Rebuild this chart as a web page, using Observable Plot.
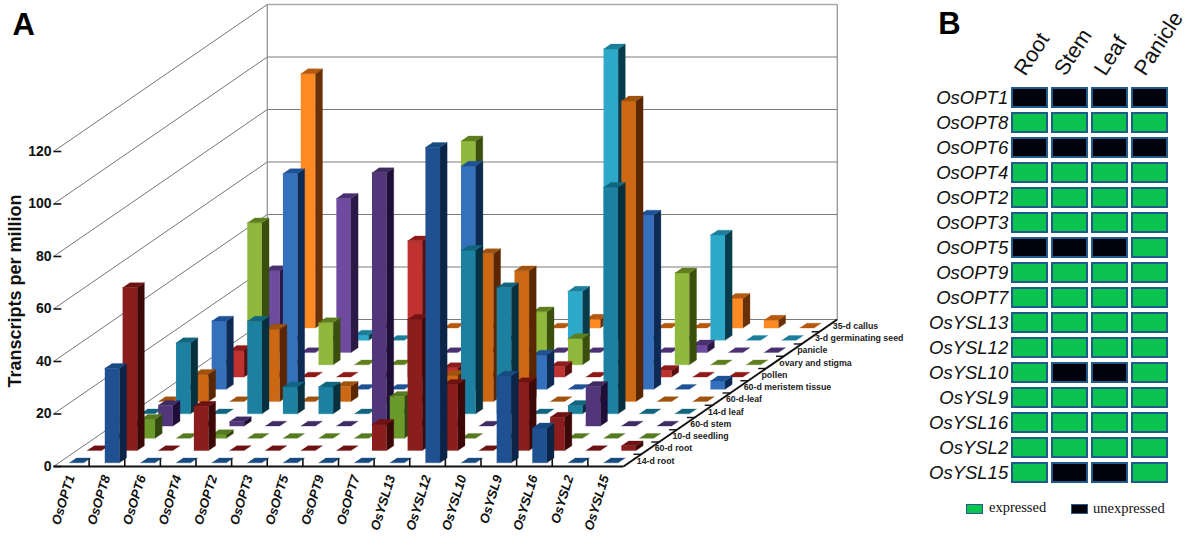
<!DOCTYPE html>
<html><head><meta charset="utf-8">
<script src="https://cdn.jsdelivr.net/npm/d3@7"></script>
<script src="https://cdn.jsdelivr.net/npm/@observablehq/plot@0.6"></script>
<style>
html,body{margin:0;padding:0;background:#fff;overflow:hidden;width:1200px;height:548px}
#wrap{position:relative;width:1200px;height:548px}
#a{position:absolute;left:0;top:0}#b{position:absolute;left:930px;top:0}
svg{display:block;background:transparent}
.lg{position:absolute;font-family:"Liberation Serif",serif;font-size:14.5px;color:#111;line-height:16px}
.sw{position:absolute;width:17px;height:10px;box-sizing:border-box;border:1px solid #2a5a8a}
</style></head><body><div id="wrap"><div id="a"></div><div id="b"></div>
<div class="sw" style="left:966px;top:504px;background:#0bc44f"></div><div class="lg" style="left:989px;top:499px">expressed</div>
<div class="sw" style="left:1071px;top:504px;background:#02020c"></div><div class="lg" style="left:1093px;top:500px">unexpressed</div>
</div>
<script>
const genes=["OsOPT1","OsOPT8","OsOPT6","OsOPT4","OsOPT2","OsOPT3","OsOPT5","OsOPT9","OsOPT7","OsYSL13","OsYSL12","OsYSL10","OsYSL9","OsYSL16","OsYSL2","OsYSL15"];
const tissues=["14-d root","60-d root","10-d seedling","60-d stem","14-d leaf","60-d-leaf","60-d meristem tissue","pollen","ovary and stigma","panicle","3-d germinating seed","35-d callus"];
const root14=[0,36,0,0,0,0,0,0,0,0,120.2,0,33,13.3,0,0];
const root60=[0,62.1,0,16.9,0,0,0,0,10,50,25.2,0,25.9,12.7,0,1.8];
const seedling10=[0,7.2,0,1.4,0,0,0,0,16,0,0,0,0,0,0,0];
const stem60=[0,7.9,0,1.7,0,0,0,96.5,0,0,0,0,0,15.1,0,0];
const leaf14=[0,27.1,0,35.3,10.3,10.3,0,0,0,62.3,48.1,0,3.2,86.3,0,0];
const leaf60=[0,10.4,0,27.6,0,5.8,0,0,10,56.4,49.8,0,0,114.5,0,0];
const meristem60=[0,26,0,82.2,0,0,0,0,85,0,13,0,0,66.4,0,3.2];
const pollen=[0,10.2,0,0,0,0,51.9,3.6,0,0,4.1,0,0,2.5,0,0];
const ovary=[0,54.1,0,16.1,0,0,0,85.3,0,20.2,10,0,0,35,0,0];
const panicle=[0,31.2,0,58.7,0,0,0,0,0,0,0,0,0,2.9,0,0];
const seed3=[0,0,0,2,0,0,0,0,0,18.7,111,0,0,40.1,0,0];
const callus35=[0,96.9,0,0,0,0,0,0,0,3.4,0,0,0,11.3,3,0];
const series=[root14,root60,seedling10,stem60,leaf14,leaf60,meristem60,pollen,ovary,panicle,seed3,callus35];
const frontColors=["#1f5091","#8c1d1d","#6a9a2a","#52367a","#1c81a0","#cc6814","#3570bc","#bf3230","#8fb83c","#6f4ba0","#2ea8c8","#ff8a24"];
const sideColors=["#0b2447","#3d0808","#33480f","#1f0f38","#07303f","#5a2700","#0d2a55","#5a0e0e","#3b4f0c","#2a1845","#063c4c","#6a3008"];
const topColors=["#174a80","#6e1212","#557a1f","#3f2a62","#12657f","#a0520f","#1e5196","#8f1a1a","#5f7f1f","#4a3070","#1b7f9c","#b5590f"];
const yTicks=[0,20,40,60,80,100,120];
const conditions=["Root","Stem","Leaf","Panicle"];
const expression=[[0,0,0,0],[1,1,1,1],[0,0,0,0],[1,1,1,1],[1,1,1,1],[1,1,1,1],[0,0,0,1],[1,1,1,1],[1,1,1,1],[1,1,1,1],[1,1,1,1],[1,0,0,1],[1,1,1,1],[1,1,1,1],[1,1,1,1],[1,0,0,1]];

// oblique projection of (gene, depth, value) on the plot's x and y scales
const DX=0.5, DY=56/12, G0=0.29, G1=0.70, D0=0.3, D1=0.7, ROWS=12, GN=16;
const P=(g,d,v)=>({x:g+DX*d,y:v+DY*d});
const faces=[];
for(let r=ROWS-1;r>=0;r--){
  series[r].forEach((v,k)=>{
    const g0=k+G0,g1=k+G1,d0=r+D0,d1=r+D1;
    const add=(name,color,pts)=>pts.forEach(p=>faces.push({id:`${r}-${k}-${name}`,color,...p}));
    if(v>0){
      add("front",frontColors[r],[P(g0,d0,0),P(g1,d0,0),P(g1,d0,v),P(g0,d0,v)]);
      add("side",sideColors[r],[P(g1,d0,0),P(g1,d1,0),P(g1,d1,v),P(g1,d0,v)]);
    }
    add("top",topColors[r],[P(g0,d0,v),P(g1,d0,v),P(g1,d1,v),P(g0,d1,v)]);
  });
}
const depthEnd=d3.range(1,ROWS);
const font='"Liberation Sans",Arial,sans-serif';
const A=Plot.plot({
  width:930,height:548,marginLeft:53,marginRight:307,marginTop:151,marginBottom:82,
  style:{fontFamily:font,background:"transparent",overflow:"visible"},
  x:{domain:[0,GN],axis:null},
  y:{domain:[0,120],axis:null},
  color:{type:"identity"},
  marks:[
    Plot.link(yTicks,{x1:0,y1:d=>d,x2:DX*ROWS,y2:d=>d+DY*ROWS,stroke:"#666",strokeWidth:0.9}),
    Plot.link(yTicks,{x1:DX*ROWS,y1:d=>d+DY*ROWS,x2:GN+DX*ROWS,y2:d=>d+DY*ROWS,stroke:d=>d==120?"#aaa":"#7c7c7c",strokeWidth:d=>d==120?1.6:1.2}),
    Plot.link([0,GN],{x1:d=>d+DX*ROWS,y1:DY*ROWS,x2:d=>d+DX*ROWS,y2:120+DY*ROWS,stroke:"#808080",strokeWidth:1.1}),
    Plot.line(faces,{x:"x",y:"y",z:"id",fill:"color",stroke:"color",strokeWidth:0.3}),
    Plot.link([0],{x1:0,x2:GN,y1:0,y2:0,stroke:"#111",strokeWidth:2}),
    Plot.link([0],{x1:GN,y1:0,x2:GN+DX*ROWS,y2:DY*ROWS,stroke:"#111",strokeWidth:2}),
    Plot.link(yTicks,{x1:0,x2:0.22,y1:d=>d,y2:d=>d,stroke:"#111",strokeWidth:1.6}),
    Plot.link(d3.range(1,GN),{x1:d=>d,x2:d=>d,y1:0,y2:3,stroke:"#111",strokeWidth:1.6}),
    Plot.link(depthEnd,{x1:d=>GN+DX*d-0.22,x2:d=>GN+DX*d,y1:d=>DY*d,y2:d=>DY*d,stroke:"#111",strokeWidth:1.4}),
    Plot.axisY(yTicks,{anchor:"left",tickSize:0,tickPadding:2,fontSize:14,fontWeight:"bold",fill:"#111",label:null,tickFormat:d=>d}),
    Plot.text(genes,{x:(d,i)=>i+0.5,y:0,text:d=>d,dy:9,dx:-0.5,rotate:-73,textAnchor:"end",lineAnchor:"middle",fontSize:13,fontWeight:"bold",fontStyle:"italic",fill:"#111"}),
    Plot.text(tissues,{x:(d,i)=>GN+DX*(i+1),y:(d,i)=>DY*(i+1),text:d=>d,dx:-4.5,dy:6.5,textAnchor:"start",lineAnchor:"middle",fontSize:8.8,fontWeight:"bold",fill:"#222"}),
    Plot.text(["Transcripts per million"],{frameAnchor:"left",dx:-38,dy:-18,rotate:-90,textAnchor:"middle",fontSize:18,fontWeight:"bold",fill:"#111"}),
    Plot.text(["A"],{frameAnchor:"top-left",dx:-41,dy:-126,textAnchor:"start",lineAnchor:"middle",fontSize:31,fontWeight:"bold",fill:"#000"})
  ]
});
document.getElementById("a").append(A);

const cells=[];
genes.forEach((g,i)=>conditions.forEach((c,j)=>cells.push({gene:g,condition:c,expressed:expression[i][j]})));
const B=Plot.plot({
  width:270,height:548,marginLeft:80.7,marginRight:31.6,marginTop:82.7,marginBottom:60.7,
  style:{fontFamily:font,background:"transparent",overflow:"visible"},
  x:{domain:conditions,axis:null,paddingInner:0.08,paddingOuter:0},
  y:{domain:genes,axis:null,paddingInner:0.15,paddingOuter:0},
  color:{type:"identity"},
  marks:[
    Plot.cell(cells,{x:"condition",y:"gene",fill:d=>d.expressed?"#0bc44f":"#02020c",stroke:"#1f5a8a",strokeWidth:2,inset:1}),
    Plot.axisY(genes,{anchor:"left",tickSize:0,tickPadding:3,fontSize:18.5,fontStyle:"italic",fill:"#111",label:null}),
    Plot.text(conditions,{x:d=>d,frameAnchor:"top",dx:-10.5,dy:-10,rotate:-57,textAnchor:"start",lineAnchor:"middle",fontSize:21.5,fill:"#111"}),
    Plot.text(["B"],{frameAnchor:"top-left",dx:-73,dy:-59,textAnchor:"start",lineAnchor:"middle",fontSize:31,fontWeight:"bold",fill:"#000"})
  ]
});
document.getElementById("b").append(B);
</script></body></html>
